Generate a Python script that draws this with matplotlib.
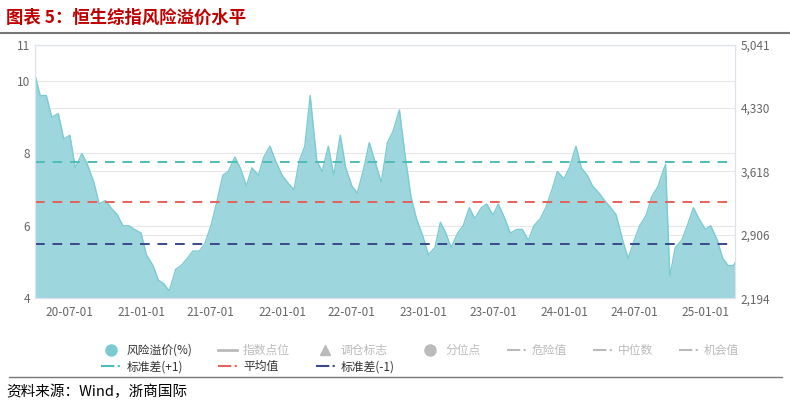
import matplotlib
matplotlib.use("Agg")
import matplotlib.pyplot as plt
import matplotlib.dates as mdates
from matplotlib.lines import Line2D
import pandas as pd

plt.rcParams['font.family'] = ['Noto Sans CJK SC', 'DejaVu Sans']

dates = ["2020-04-01","2020-04-15","2020-05-01","2020-05-15","2020-06-01","2020-06-15","2020-07-01","2020-07-15",
"2020-08-01","2020-08-15","2020-09-01","2020-09-15","2020-10-01","2020-10-15","2020-11-01","2020-11-15","2020-12-01","2020-12-15",
"2021-01-01","2021-01-15","2021-02-01","2021-02-15","2021-03-01","2021-03-15","2021-04-01","2021-04-15","2021-05-01","2021-05-15",
"2021-06-01","2021-06-15","2021-07-01","2021-07-15","2021-08-01","2021-08-15","2021-09-01","2021-09-15","2021-10-01","2021-10-15",
"2021-11-01","2021-11-15","2021-12-01","2021-12-15",
"2022-01-01","2022-01-15","2022-02-01","2022-02-15","2022-03-01","2022-03-15","2022-04-01","2022-04-15","2022-05-01","2022-05-15",
"2022-06-01","2022-06-15","2022-07-01","2022-07-15","2022-08-01","2022-08-15","2022-09-01","2022-09-15","2022-10-01","2022-10-15",
"2022-11-01","2022-11-15","2022-12-01","2022-12-15",
"2023-01-01","2023-01-15","2023-02-01","2023-02-15","2023-03-01","2023-03-15","2023-04-01","2023-04-15","2023-05-01","2023-05-15",
"2023-06-01","2023-06-15","2023-07-01","2023-07-15","2023-08-01","2023-08-15","2023-09-01","2023-09-15","2023-10-01","2023-10-15",
"2023-11-01","2023-11-15","2023-12-01","2023-12-15",
"2024-01-01","2024-01-15","2024-02-01","2024-02-15","2024-03-01","2024-03-15","2024-04-01","2024-04-15","2024-05-01","2024-05-15",
"2024-06-01","2024-06-15","2024-07-01","2024-07-15","2024-08-01","2024-08-15","2024-09-01","2024-09-10","2024-09-20","2024-10-01",
"2024-10-15","2024-11-01","2024-11-15","2024-12-01","2024-12-15",
"2025-01-01","2025-01-15","2025-02-01","2025-02-15","2025-03-01","2025-03-15","2025-03-20"]
premium = [10.2,9.6,9.6,9.0,9.1,8.4,8.5,7.6,8.0,7.7,7.2,6.6,6.7,6.5,6.3,6.0,6.0,5.9,
5.8,5.2,4.9,4.5,4.4,4.2,4.8,4.9,5.1,5.3,5.3,5.5,6.0,6.6,7.4,7.5,7.9,7.6,7.1,7.6,7.4,7.9,8.2,7.8,
7.4,7.2,7.0,7.8,8.2,9.6,7.8,7.5,8.2,7.4,8.5,7.6,7.1,6.9,7.6,8.3,7.7,7.2,8.3,8.6,9.2,8.0,6.8,6.2,
5.7,5.2,5.4,6.1,5.8,5.4,5.8,6.0,6.5,6.2,6.5,6.6,6.3,6.6,6.2,5.8,5.9,5.9,5.6,6.0,6.2,6.5,7.0,7.5,
7.3,7.6,8.2,7.6,7.4,7.1,6.9,6.7,6.5,6.3,5.6,5.1,5.6,6.0,6.3,6.8,7.1,7.4,7.7,4.6,
5.4,5.6,6.0,6.5,6.2,5.9,6.0,5.6,5.1,4.9,4.9,5.0]
std_plus = 7.75
mean_val = 6.65
std_minus = 5.5
right_ticks = [2194, 2906, 3618, 4330, 5041]
left_ticks = [4, 6, 8, 10, 11]
xtick_dates = ["2020-07-01","2021-01-01","2021-07-01","2022-01-01","2022-07-01","2023-01-01","2023-07-01","2024-01-01","2024-07-01","2025-01-01"]

d = pd.to_datetime(dates)
fig = plt.figure(figsize=(7.9, 4.04), dpi=100)
ax = fig.add_axes([0.044, 0.262, 0.887, 0.627])
ax.set_xlim(d[0], d[-1])
ax.set_ylim(4, 11)
ax2 = ax.twinx()
ax2.set_ylim(2194, 5041)
ax2.set_yticks(right_ticks)
ax2.set_yticklabels([f"{v:,}" for v in right_ticks])
for t in [5.75, 7.5, 9.25]:
    ax.axhline(t, color='#e6e6e6', lw=0.8, zorder=0)
ax.set_yticks(left_ticks)
ax.yaxis.grid(True, color='#e6e6e6', lw=0.8)
ax.set_axisbelow(True)
ax.fill_between(d, premium, 4, color='#9dd6dc', lw=0, zorder=2)
ax.plot(d, premium, color='#7ccbd2', lw=1, zorder=3)
ax.axhline(std_plus, color='#4dbdb8', ls=(0, (5, 4)), lw=1.4, zorder=4)
ax.axhline(mean_val, color='#e8605c', ls=(0, (5, 4)), lw=1.4, zorder=4)
ax.axhline(std_minus, color='#3b4a8a', ls=(0, (5, 4)), lw=1.4, zorder=4)
ax.set_xticks(pd.to_datetime(xtick_dates))
ax.xaxis.set_major_formatter(mdates.DateFormatter('%y-%m-%d'))
for a in (ax, ax2):
    a.tick_params(length=0, labelsize=8.5, colors='#666666')
    for s in a.spines.values():
        s.set_color('#dde3ea')
ax.tick_params(axis='x', pad=6)

fig.text(0.008, 0.955, "图表 5：恒生综指风险溢价水平", color='#c00000', fontsize=12.5, fontweight='bold', va='center')
fig.add_artist(Line2D([0.0, 1.0], [0.918, 0.918], color='#777777', lw=1.5))
fig.add_artist(Line2D([0.012, 0.99], [0.066, 0.066], color='#777777', lw=1))
fig.text(0.008, 0.030, "资料来源：Wind，浙商国际", fontsize=10.5, va='center')

grey = '#bbbbbb'
entries = [
    (Line2D([], [], marker='o', ls='', color='#7ccbd2', ms=8), "风险溢价(%)", '#333333'),
    (Line2D([], [], color=grey, lw=2), "指数点位", grey),
    (Line2D([], [], marker='^', ls='', color=grey, ms=7), "调仓标志", grey),
    (Line2D([], [], marker='o', ls='', color=grey, ms=8), "分位点", grey),
    (Line2D([], [], color=grey, ls='-.', lw=1.5), "危险值", grey),
    (Line2D([], [], color=grey, ls='-.', lw=1.5), "中位数", grey),
    (Line2D([], [], color=grey, ls='-.', lw=1.5), "机会值", grey),
    (Line2D([], [], color='#4dbdb8', ls='-.', lw=1.5), "标准差(+1)", '#333333'),
    (Line2D([], [], color='#e8605c', ls='-.', lw=1.5), "平均值", '#333333'),
    (Line2D([], [], color='#3b4a8a', ls='-.', lw=1.5), "标准差(-1)", '#333333'),
]
order = [0, 7, 1, 8, 2, 9, 3, 4, 5, 6]
entries = [entries[i] for i in order]
leg = fig.legend([e[0] for e in entries], [e[1] for e in entries], ncol=7,
                 loc='upper left', bbox_to_anchor=(0.115, 0.175), frameon=False,
                 fontsize=8.5, handlelength=1.6, columnspacing=2.2, handletextpad=0.5,
                 labelspacing=0.3)
for txt, e in zip(leg.get_texts(), entries):
    txt.set_color(e[2])
fig.savefig("out.png", dpi=100)
